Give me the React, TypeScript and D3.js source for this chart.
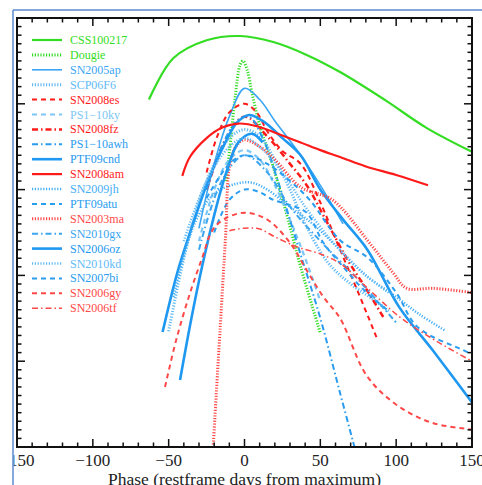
import React from "react";
import * as d3 from "d3";

// phase (days from maximum) vs. relative brightness
const css100217 = [[-63, 4.05], [-47, 4.53], [-25, 4.74], [-3, 4.79], [19, 4.72], [41, 4.57], [63, 4.37], [93, 4.04], [120, 3.72], [150, 3.44]];
const dougie = [[-12, 3.1], [-9, 3.6], [-6, 4.1], [-3, 4.45], [-1, 4.5], [2, 4.38], [5, 4.12], [10, 3.75], [19, 3.26], [28, 2.7], [37, 2.1], [50, 1.33]];
const sn2005ap = [[-30, 2.55], [-20, 3.3], [-10, 3.85], [0, 4.18], [10, 4.05], [20, 3.8], [35, 3.45], [50, 3.05], [65, 2.6]];
const scp06f6 = [[-50, 1.35], [-40, 2.2], [-30, 2.85], [-20, 3.3], [-10, 3.6], [0, 3.7], [10, 3.62], [20, 3.35], [30, 3.0], [40, 2.6], [55, 2.15], [70, 1.9], [85, 1.72], [96, 1.57]];
const sn2008es = [[-25, 3.2], [-18, 3.62], [-10, 3.9], [0, 4.0], [8, 3.9], [15, 3.68], [25, 3.45], [37, 3.3], [50, 2.85], [63, 2.3], [75, 1.8], [87, 1.28]];
const ps110ky = [[-30, 2.4], [-20, 3.0], [-10, 3.35], [0, 3.46], [10, 3.35], [20, 3.05], [30, 2.65], [40, 2.2], [50, 1.7]];
const sn2008fz = [[-25, 3.0], [-12, 3.6], [0, 3.85], [15, 3.62], [30, 3.3], [41, 3.05], [55, 2.6], [68, 2.18], [80, 1.85], [92, 1.5]];
const ps110awh = [[-25, 3.0], [-15, 3.5], [-5, 3.8], [3, 3.85], [12, 3.6], [22, 3.1], [36, 2.3], [50, 1.5], [63, 0.63], [74, -0.1]];
const ptf09cnd = [[-54, 1.34], [-44, 2.05], [-34, 2.6], [-24, 3.1], [-14, 3.5], [-5, 3.78], [3, 3.87], [12, 3.8], [25, 3.6], [37, 3.4], [50, 3.0], [65, 2.65], [81, 2.3], [102, 1.63], [124, 1.13], [150, 0.52]];
const sn2008am = [[-41, 3.16], [-36, 3.38], [-25, 3.6], [-15, 3.72], [-4, 3.77], [10, 3.73], [22, 3.65], [37, 3.55], [50, 3.46], [63, 3.38], [80, 3.27], [100, 3.17], [121, 3.05]];
const sn2009jh = [[-47, 1.75], [-33, 2.6], [-20, 2.95], [-5, 3.07], [5, 3.08], [15, 3.0], [30, 2.8], [45, 2.6], [60, 2.35], [80, 2.0], [100, 1.75], [115, 1.55], [132, 1.36]];
const ptf09atu = [[-20, 2.5], [-10, 2.88], [0, 3.0], [10, 2.97], [19, 2.88], [30, 2.82], [41, 2.73], [52, 2.38], [65, 2.1], [81, 1.79], [94, 1.6]];
const sn2003ma = [[-21, -0.1], [-19.5, 0.35], [-16, 1.4], [-12.5, 2.45], [-9.6, 3.3], [-5, 3.52], [0, 3.58], [10, 3.5], [20, 3.35], [37, 3.03], [58, 2.88], [81, 2.41], [98, 2.03], [107, 1.85], [124, 1.85], [150, 1.8]];
const sn2010gx = [[-30, 2.3], [-15, 3.1], [0, 3.4], [15, 3.2], [30, 2.8], [50, 2.4], [75, 1.95], [100, 1.45]];
const sn2006oz = [[-42.5, 0.78], [-35, 1.5], [-28, 2.1], [-20, 2.7], [-12, 3.2], [-4, 3.55], [5, 3.65], [12, 3.55]];
const sn2010kd = [[-40, 2.4], [-25, 3.1], [-10, 3.5], [0, 3.6], [10, 3.5], [25, 3.2], [40, 2.8], [60, 2.35], [80, 2.0], [95, 1.8]];
const sn2007bi = [[-25, 2.9], [-10, 3.3], [0, 3.4], [15, 3.3], [30, 3.1], [43, 2.88], [63, 2.41], [81, 2.21], [100, 1.8], [114, 1.4], [144, 1.13], [150, 1.08]];
const sn2006gy = [[-52.4, 0.7], [-45, 1.25], [-36, 1.79], [-28, 2.2], [-21, 2.53], [-12, 2.67], [1, 2.73], [15, 2.65], [30, 2.38], [41, 2.06], [52, 1.75], [63, 1.5], [81, 0.82], [102, 0.47], [124, 0.28], [147, 0.21], [150, 0.2]];
const sn2006tf = [[-10, 2.52], [0, 2.55], [10, 2.54], [20, 2.45], [35, 2.33], [50, 2.25], [63, 2.14], [80, 1.87], [102, 1.52], [125, 1.25], [150, 1.0]];

const phaseTicks = [-150, -100, -50, 0, 50, 100, 150];

const GREEN = "#33dd22";
const RED = "#ff1a1a";
const LRED = "#ff4848";
const BLUE = "#1e98f0";
const LBLUE = "#62bbf6";

const DOT = "1.2 1.6";
const DASH = "5 4";
const DASHDOT = "6 3 1.5 3";

const series = [
  { name: "CSS100217", data: css100217, color: GREEN, dash: null, w: 2.2 },
  { name: "Dougie", data: dougie, color: GREEN, dash: DOT, w: 3 },
  { name: "SN2005ap", data: sn2005ap, color: "#3aa6f5", dash: null, w: 1.6 },
  { name: "SCP06F6", data: scp06f6, color: LBLUE, dash: DOT, w: 3 },
  { name: "SN2008es", data: sn2008es, color: RED, dash: DASH, w: 2 },
  { name: "PS1\u221210ky", data: ps110ky, color: "#7cc6f6", dash: DASH, w: 2.2 },
  { name: "SN2008fz", data: sn2008fz, color: RED, dash: DASHDOT, w: 2.5 },
  { name: "PS1\u221210awh", data: ps110awh, color: "#2a9cf0", dash: DASHDOT, w: 2 },
  { name: "PTF09cnd", data: ptf09cnd, color: BLUE, dash: null, w: 2.6 },
  { name: "SN2008am", data: sn2008am, color: RED, dash: null, w: 2.2 },
  { name: "SN2009jh", data: sn2009jh, color: "#45aef5", dash: DOT, w: 2.5 },
  { name: "PTF09atu", data: ptf09atu, color: "#2a9df0", dash: DASH, w: 2 },
  { name: "SN2003ma", data: sn2003ma, color: LRED, dash: DOT, w: 3 },
  { name: "SN2010gx", data: sn2010gx, color: "#3aa6f0", dash: DASHDOT, w: 2 },
  { name: "SN2006oz", data: sn2006oz, color: BLUE, dash: null, w: 2.6 },
  { name: "SN2010kd", data: sn2010kd, color: LBLUE, dash: DOT, w: 2.5 },
  { name: "SN2007bi", data: sn2007bi, color: "#2a9df0", dash: DASH, w: 2 },
  { name: "SN2006gy", data: sn2006gy, color: LRED, dash: DASH, w: 2 },
  { name: "SN2006tf", data: sn2006tf, color: LRED, dash: DASHDOT, w: 1.5 },
];

const W = 482, H = 485;
const left = 17, right = 472, top = 18, bottom = 447;
const serif = "'Liberation Serif', 'DejaVu Serif', serif";

export default function App() {
  const x = d3.scaleLinear().domain([-150, 150]).range([left, right]);
  const y = d3.scaleLinear().domain([0, 5]).range([bottom, top]);
  const line = d3.line<number[]>().x(d => x(d[0])).y(d => y(d[1])).curve(d3.curveCatmullRom.alpha(0.5));

  const xMinor = d3.range(-150, 151, 10);
  const yMinor = d3.range(0, 5.001, 0.1);

  return (
    <div style={{ position: "absolute", left: 0, top: 0, width: W, height: H, background: "#fff" }}>
      <svg width={W} height={H} style={{ display: "block", fontFamily: serif }}>
        <defs>
          <clipPath id="plot"><rect x={left} y={top} width={right - left} height={bottom - top} /></clipPath>
          <clipPath id="page"><rect x={13.5} y={10.5} width={W} height={H} /></clipPath>
        </defs>

        {/* curves */}
        <g clipPath="url(#plot)" fill="none">
          {series.map(s => (
            <path key={s.name} d={line(s.data) || ""} stroke={s.color} strokeWidth={s.w}
              strokeDasharray={s.dash || undefined} />
          ))}
        </g>

        {/* legend */}
        <g>
          {series.map((s, i) => {
            const ly = 40 + i * 14.9;
            return (
              <g key={s.name}>
                <line x1={32} x2={62} y1={ly} y2={ly} stroke={s.color} strokeWidth={s.w}
                  strokeDasharray={s.dash || undefined} />
                <text x={70} y={ly + 4} fill={s.color} style={{ fontFamily: serif, fontSize: 12 }}>{s.name}</text>
              </g>
            );
          })}
        </g>

        {/* ticks */}
        <g stroke="#111" strokeWidth={1.5}>
          {xMinor.map(v => {
            const len = v % 50 === 0 ? 8 : 4.5;
            return (
              <g key={"x" + v}>
                <line x1={x(v)} x2={x(v)} y1={bottom} y2={bottom - len} />
                <line x1={x(v)} x2={x(v)} y1={top} y2={top + len} />
              </g>
            );
          })}
          {yMinor.map((v, i) => {
            const len = i % 10 === 0 ? 8 : 4.5;
            return (
              <g key={"y" + i}>
                <line x1={left} x2={left + len} y1={y(v)} y2={y(v)} />
                <line x1={right} x2={right - len} y1={y(v)} y2={y(v)} />
              </g>
            );
          })}
        </g>
        <rect x={left} y={top} width={right - left} height={bottom - top} fill="none" stroke="#111" strokeWidth={2} />

        {/* axis labels */}
        <g clipPath="url(#page)" fill="#222">
          {phaseTicks.map(v => (
            <text key={v} x={x(v)} y={465.5} textAnchor="middle" style={{ fontFamily: serif, fontSize: 17 }}>
              {v < 0 ? "\u2212" + Math.abs(v) : v}
            </text>
          ))}
          <text x={(left + right) / 2} y={485} textAnchor="middle" style={{ fontFamily: serif, fontSize: 17.5 }}>
            Phase (restframe days from maximum)
          </text>
        </g>

        {/* outer figure border */}
        <line x1={13} x2={13} y1={10} y2={H} stroke="#5b8bd0" strokeWidth={1.5} />
        <line x1={13} x2={W} y1={10} y2={10} stroke="#5b8bd0" strokeWidth={1.5} />
      </svg>
    </div>
  );
}
